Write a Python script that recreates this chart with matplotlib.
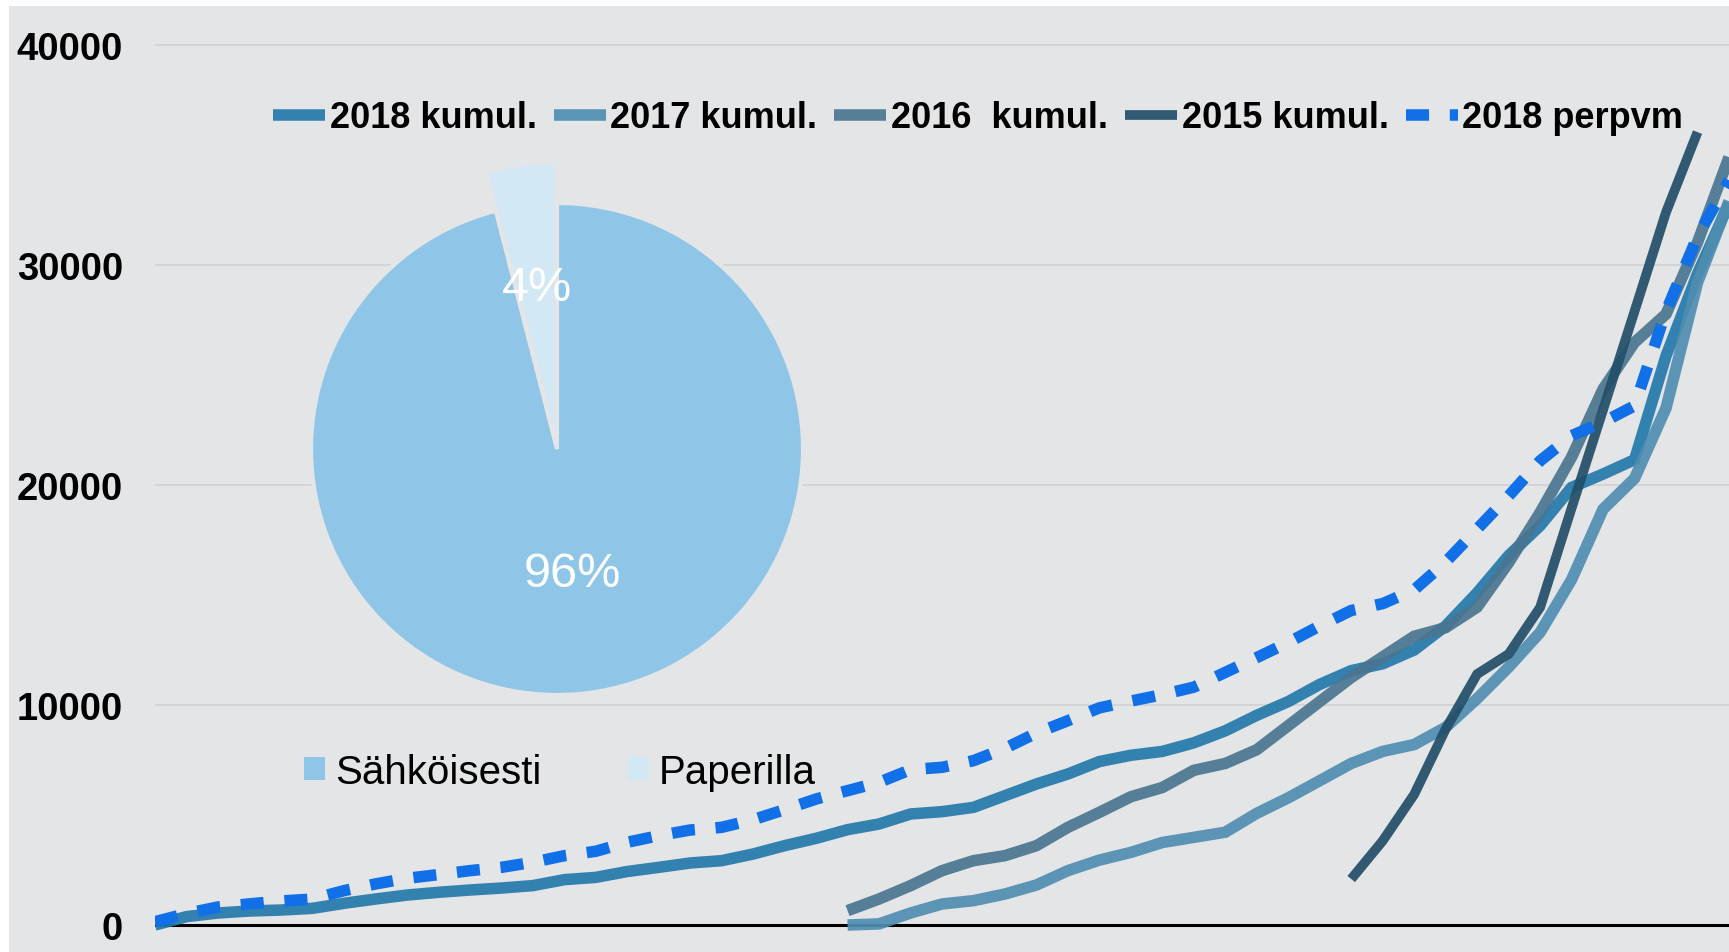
import numpy as np
import matplotlib
matplotlib.use('Agg')
import matplotlib.pyplot as plt
from matplotlib.patches import Rectangle, Patch

plt.rcParams['font.family'] = ['Liberation Sans', 'DejaVu Sans']

## data (cumulative counts per week)
weeks = list(range(51))

kumul_2018 = [0, 380, 545, 636, 680, 757, 985, 1180, 1360, 1485,
              1590, 1680, 1790, 2060, 2165, 2430, 2620, 2818, 2924, 3227,
              3606, 3939, 4333, 4590, 5045, 5152, 5348, 5879, 6409, 6864,
              7430, 7715, 7890, 8281, 8828, 9531, 10156, 10937, 11562, 11875,
              12500, 13594, 15100, 16790, 18150, 19890, 20500, 21150, 25870, 29600,
              32800]

kumul_2017 = [np.nan]*22 + [0, 50, 545, 955, 1106, 1409, 1818, 2470,
              2950, 3300, 3750, 3984, 4219, 5078, 5781, 6562, 7344, 7890,
              8203, 8984, 10290, 11720, 13300, 15700, 18900, 20300, 23500, 29200,
              32900]

kumul_2016 = [np.nan]*22 + [652, 1182, 1788, 2470, 2924, 3152, 3606, 4439,
              5120, 5830, 6250, 7031, 7344, 7969, 9062, 10156, 11250, 12187,
              13125, 13516, 14450, 16470, 18750, 21270, 24360, 26480, 27770, 31030,
              34900]

kumul_2015 = [np.nan]*38 + [2090, 3828,
              5937, 8906, 11406, 12318, 14439, 18950, 23420, 27900, 32400, 36040,
              np.nan]

perpvm_2018 = [150, 520, 820, 960, 1090, 1180, 1560, 1865, 2120, 2290,
               2470, 2620, 2850, 3150, 3350, 3760, 4060, 4318, 4439, 4788,
               5242, 5727, 6106, 6485, 7061, 7167, 7470, 8030, 8727, 9287,
               9870, 10180, 10469, 10812, 11484, 12156, 12844, 13594, 14297, 14609,
               15234, 16500, 18000, 19500, 21100, 22240, 22860, 23600, 27900, 31300,
               33850]

series_labels = ['2018 kumul.', '2017 kumul.', '2016  kumul.', '2015 kumul.', '2018 perpvm']
y_ticks = [0, 10000, 20000, 30000, 40000]

pie_labels = ['Sähköisesti', 'Paperilla']
pie_values = [96, 4]

## styling
W, H = 1729, 953
bg = '#E4E5E7'
line_colors = ['#2479AA', '#4F8DB0', '#4A7690', '#224E68']
dash_color = '#1170E8'
pie_colors = ['#8FC6E7', '#D2E8F4']

fig = plt.figure(figsize=(W/100, H/100), dpi=100)
fig.patch.set_facecolor('white')
fig.add_artist(Rectangle((9/W, 0), 1, (H-7)/H, transform=fig.transFigure,
                         facecolor=bg, edgecolor='none', zorder=-10))

# main line chart, value 0 sits 27 px above the bottom, 220 px per 10000
ax = fig.add_axes([155/W, 0, 1 - 155/W, (H-7)/H])
ax.set_facecolor('none')
per_px = 10000/220.
ax.set_ylim(-27*per_px, (H - 7 - 27)*per_px)
ax.set_xlim(0, 50)

for vals, col, lab, lw in zip([kumul_2018, kumul_2017, kumul_2016, kumul_2015],
                              line_colors, series_labels[:4], [8.3, 8.3, 8.3, 7.0]):
    ax.plot(weeks, vals, color=col, lw=lw, alpha=0.92, label=lab,
            solid_capstyle='butt', solid_joinstyle='miter', zorder=3)
ax.plot(weeks, perpvm_2018, color=dash_color, lw=8.3, linestyle=(0, (2.0, 1.8)),
        dash_capstyle='butt', label=series_labels[4], zorder=4)

ax.axhline(0, color='black', lw=2.2, zorder=2)
ax.set_yticks(y_ticks)
ax.set_yticklabels([str(v) for v in y_ticks], fontsize=27.5, fontweight='bold')
ax.tick_params(axis='y', length=0, pad=23)
ax.set_xticks([])
ax.grid(axis='y', color='#CFD0D3', lw=1.1)
ax.set_axisbelow(True)
for s in ax.spines.values():
    s.set_visible(False)

leg = ax.legend(loc='center left', bbox_to_anchor=(273/W, 1 - 119/H),
                bbox_transform=fig.transFigure, ncol=5, frameon=False,
                borderpad=0, borderaxespad=0, handlelength=1.44,
                handletextpad=0.13, columnspacing=0.47,
                prop={'size': 26, 'weight': 'bold'})

# pie inset
r_px = 246
pax = fig.add_axes([(557-300)/W, (H-450-300)/H, 600/W, 600/H])
wedges, texts, autotexts = pax.pie(pie_values, colors=pie_colors, startangle=90,
                                   counterclock=False, explode=(0, 0.015),
                                   autopct='%1.0f%%', pctdistance=0.51,
                                   textprops=dict(color='white', fontsize=35),
                                   wedgeprops=dict(edgecolor=bg, linewidth=3))
wedges[1].set_radius(1.15)
mid = np.deg2rad((wedges[1].theta1 + wedges[1].theta2)/2)
autotexts[1].set_position((0.66*np.cos(mid), 0.66*np.sin(mid)))
pax.set_xlim(-300/r_px, 300/r_px)
pax.set_ylim(-300/r_px, 300/r_px)
pax.set_aspect('equal')
pax.axis('off')

proxies = [Patch(facecolor=c, edgecolor='none') for c in pie_colors]
fig.legend(proxies, pie_labels, loc='center left', bbox_to_anchor=(304/W, 1 - 773/H),
           ncol=2, frameon=False, borderpad=0, borderaxespad=0,
           handlelength=0.52, handleheight=0.52, handletextpad=0.25,
           columnspacing=2.15, prop={'size': 29})

fig.savefig('out.png', dpi=100, facecolor=fig.get_facecolor())
